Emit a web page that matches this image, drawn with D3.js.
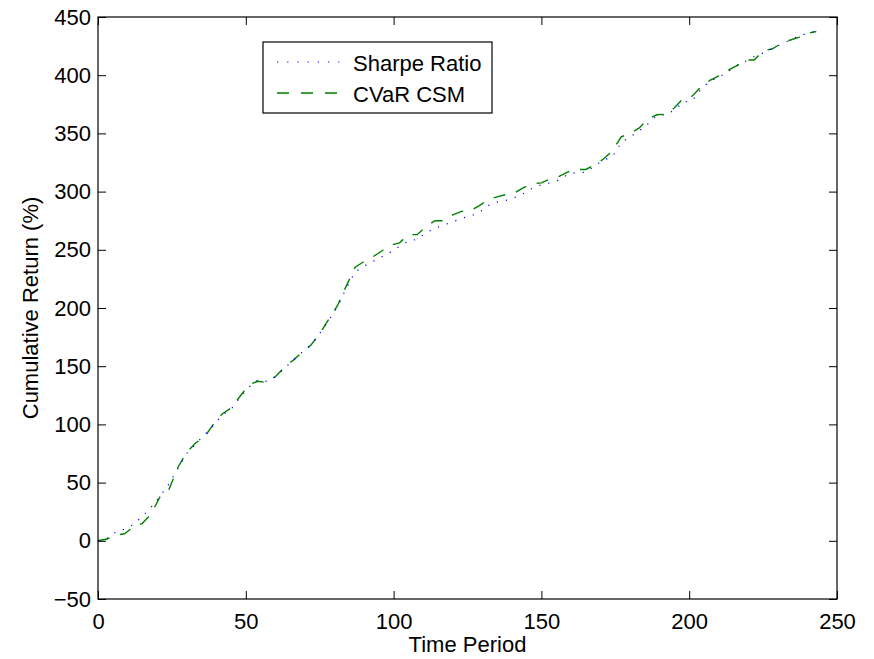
<!DOCTYPE html>
<html>
<head>
<meta charset="utf-8">
<script src="https://cdn.jsdelivr.net/npm/d3@7"></script>
<style>
  body { margin: 0; background: #fff; }
  text { font-family: "Liberation Sans", Arial, sans-serif; fill: #000; }
</style>
</head>
<body>
<div id="views"></div>
<script>
// time periods sampled every 3 steps
var periods = [0, 3, 6, 9, 12, 15, 18, 21, 24, 27, 30, 33, 36, 39, 42, 45, 48, 51, 54, 57,
    60, 63, 66, 69, 72, 75, 78, 81, 84, 87, 90, 93, 96, 99, 102, 105, 108, 111, 114, 117,
    120, 123, 126, 129, 132, 135, 138, 141, 144, 147, 150, 153, 156, 159, 162, 165, 168, 171, 174, 177,
    180, 183, 186, 189, 192, 195, 198, 201, 204, 207, 210, 213, 216, 219, 222, 225, 228, 231, 234, 237,
    240, 243];

var sharpeRatio = [0, 2, 7.5, 10, 14, 21, 29, 38, 49, 62, 75, 83, 91, 99, 108, 113, 123, 132, 138, 137,
    141, 148, 155, 162, 168, 178, 189, 201, 217, 231, 236, 240, 244, 248, 253, 257.5, 259, 264.7, 268.5, 271.3,
    274, 277, 279, 282, 288, 291, 292.5, 295, 298.5, 303, 306, 307.5, 310, 315, 316.5, 316.5, 322, 327, 330, 342,
    347, 352, 358, 365, 366, 370, 377, 378, 388, 395, 398, 403, 408, 412, 416, 419, 423, 426.5, 430, 433.5,
    436, 438];

var cvarCSM = [0, 1.5, 5, 6, 12, 15, 23, 38, 44, 63, 76, 84, 89, 100, 109, 114, 124, 134, 137, 136,
    141, 149, 155, 162, 168, 178, 190, 202, 219, 235, 240, 244, 249, 254, 256, 263, 263, 270, 275, 275,
    280, 283, 283.5, 288, 293, 295.5, 297.5, 299, 303.5, 307, 307.5, 311, 313, 317, 319, 319, 323, 328, 335, 347,
    350, 354.5, 362, 366, 366.5, 372, 380, 382, 390, 395.5, 399.5, 404, 408, 413, 413, 421, 422.5, 427, 430, 432.5,
    436, 437.5];

var xTicks = [0, 50, 100, 150, 200, 250];
var yTicks = [-50, 0, 50, 100, 150, 200, 250, 300, 350, 400, 450];
var seriesNames = ["Sharpe Ratio", "CVaR CSM"];

var margin = {top: 17, right: 37, bottom: 60, left: 98};
var W = 874, H = 659;
var w = W - margin.left - margin.right;
var h = H - margin.top - margin.bottom;
var tickLen = 8;

var svg = d3.select("#views")
    .append("svg")
    .attr("width", W)
    .attr("height", H);

var g = svg.append("g")
    .attr("transform", "translate(" + margin.left + "," + margin.top + ")");

var x = d3.scaleLinear().domain([0, 250]).range([0, w]);
var y = d3.scaleLinear().domain([-50, 450]).range([h, 0]);

function drawAxes() {
    // bottom and top
    g.append("g")
        .attr("transform", "translate(0," + h + ")")
        .call(d3.axisBottom(x).tickValues(xTicks).tickSizeInner(-tickLen).tickSizeOuter(0).tickPadding(14))
        .call(styleAxis);
    g.append("g")
        .call(d3.axisTop(x).tickValues(xTicks).tickSizeInner(-tickLen).tickSizeOuter(0).tickFormat(""))
        .call(styleAxis);
    // left and right
    g.append("g")
        .call(d3.axisLeft(y).tickValues(yTicks).tickSizeInner(-tickLen).tickSizeOuter(0).tickPadding(7)
            .tickFormat(function(d) { return d < 0 ? "\u2212" + Math.abs(d) : d; }))
        .call(styleAxis);
    g.append("g")
        .attr("transform", "translate(" + w + ",0)")
        .call(d3.axisRight(y).tickValues(yTicks).tickSizeInner(-tickLen).tickSizeOuter(0).tickFormat(""))
        .call(styleAxis);

    g.append("rect")
        .attr("x", 0).attr("y", 0)
        .attr("width", w).attr("height", h)
        .attr("fill", "none")
        .attr("stroke", "#000")
        .attr("stroke-width", 1.2);
}

function styleAxis(sel) {
    sel.select(".domain").remove();
    sel.selectAll(".tick line").attr("stroke", "#000").attr("stroke-width", 1);
    sel.selectAll(".tick text")
        .style("font-family", "'Liberation Sans', Arial, sans-serif")
        .style("font-size", "22px")
        .attr("fill", "#000");
}

function drawLines() {
    var line = d3.line()
        .x(function(d, i) { return x(periods[i]); })
        .y(function(d) { return y(d); });

    g.append("path")
        .datum(cvarCSM)
        .attr("d", line)
        .attr("fill", "none")
        .attr("stroke", "#008000")
        .attr("stroke-width", 1.4)
        .attr("stroke-dasharray", "12,11");

    g.append("path")
        .datum(sharpeRatio)
        .attr("d", line)
        .attr("fill", "none")
        .attr("stroke", "#0000ff")
        .attr("stroke-width", 1.2)
        .attr("stroke-dasharray", "1.2,8");
}

function drawLegend() {
    var lg = svg.append("g").attr("transform", "translate(263,42)");
    lg.append("rect")
        .attr("width", 229).attr("height", 71)
        .attr("fill", "#fff")
        .attr("stroke", "#000")
        .attr("stroke-width", 1.2);

    var styles = [
        {color: "#0000ff", dash: "1.2,9", width: 1.2},
        {color: "#008000", dash: "12,12", width: 1.4}
    ];
    var rows = [20, 51];

    seriesNames.forEach(function(name, i) {
        lg.append("line")
            .attr("x1", 14).attr("x2", 82)
            .attr("y1", rows[i]).attr("y2", rows[i])
            .attr("stroke", styles[i].color)
            .attr("stroke-width", styles[i].width)
            .attr("stroke-dasharray", styles[i].dash);
        lg.append("text")
            .attr("x", 90)
            .attr("y", rows[i] + 1)
            .attr("dy", "0.35em")
            .style("font-size", "22px")
            .text(name);
    });
}

function drawLabels() {
    svg.append("text")
        .attr("x", margin.left + w / 2)
        .attr("y", 652)
        .attr("text-anchor", "middle")
        .style("font-size", "22px")
        .text("Time Period");

    svg.append("text")
        .attr("transform", "translate(38," + (margin.top + h / 2) + ") rotate(-90)")
        .attr("text-anchor", "middle")
        .style("font-size", "22px")
        .text("Cumulative Return (%)");
}

drawLines();
drawAxes();
drawLegend();
drawLabels();
</script>
</body>
</html>
